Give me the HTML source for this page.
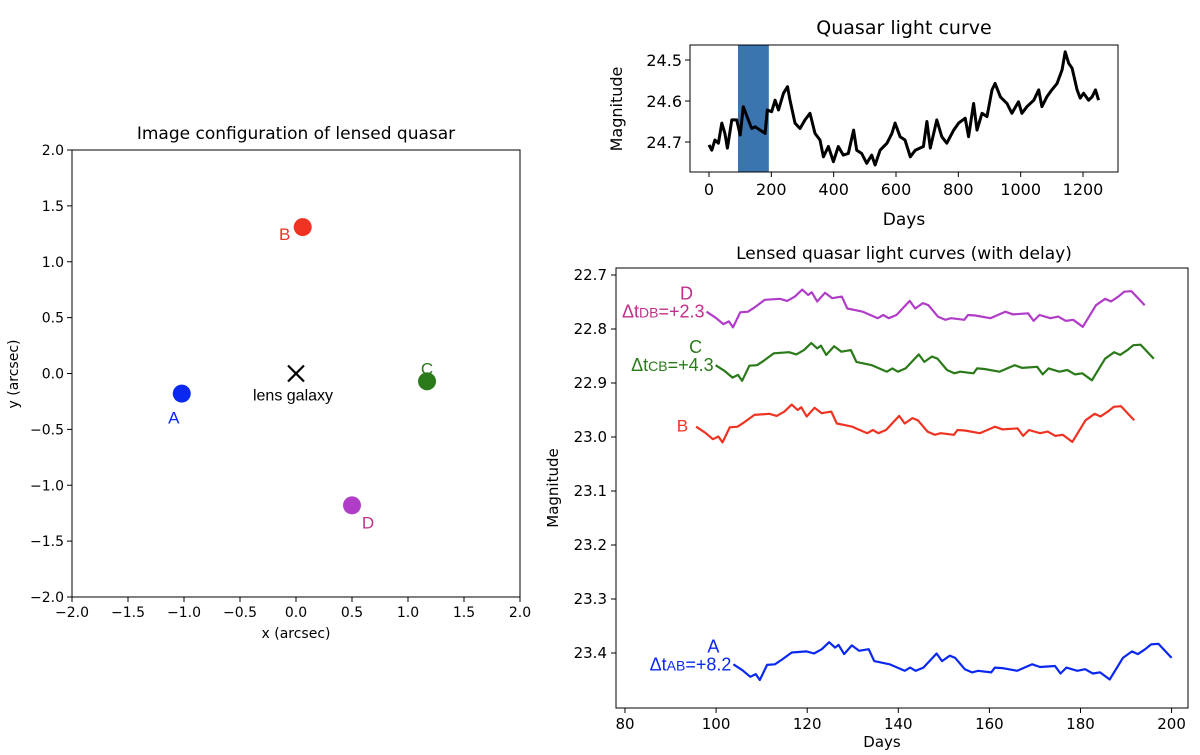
<!DOCTYPE html>
<html><head><meta charset="utf-8"><style>
body{margin:0;background:#fff;}
svg{display:block;font-family:"DejaVu Sans","Liberation Sans",sans-serif;}
.lab{font-family:"Liberation Sans",sans-serif;}
</style></head><body>
<svg id="fig" width="1200" height="755" viewBox="0 0 1200 755"></svg>
<script>
// ---- data ----
const imgNames = ["A","B","C","D"];
const imgX = [-1.02, 0.06, 1.17, 0.50];
const imgY = [-0.18, 1.31, -0.07, -1.18];
const lensXY = [0, 0];
const xyTicks = [-2.0,-1.5,-1.0,-0.5,0.0,0.5,1.0,1.5,2.0];

const lcDays = [0,9,19,30,41,51,59,73,89,100,110,126,137,148,164,180,187,201,212,223,239,252,260,276,292,308,324,340,356,367,383,399,415,431,447,464,474,490,506,522,533,549,571,587,597,613,629,646,662,688,699,710,731,747,763,785,801,822,833,849,860,876,892,908,918,935,956,972,993,1004,1020,1042,1058,1068,1084,1100,1117,1133,1143,1154,1165,1181,1191,1202,1218,1229,1240,1250];
const lcMags = [24.707,24.720,24.695,24.703,24.654,24.679,24.715,24.646,24.646,24.683,24.614,24.646,24.667,24.663,24.671,24.679,24.622,24.626,24.598,24.622,24.581,24.565,24.598,24.654,24.667,24.646,24.630,24.679,24.695,24.736,24.711,24.748,24.711,24.732,24.728,24.671,24.720,24.728,24.752,24.732,24.756,24.720,24.703,24.679,24.654,24.687,24.695,24.736,24.720,24.711,24.650,24.715,24.646,24.687,24.703,24.671,24.654,24.642,24.687,24.606,24.671,24.630,24.638,24.573,24.557,24.590,24.606,24.630,24.602,24.630,24.614,24.598,24.573,24.614,24.590,24.573,24.557,24.524,24.480,24.508,24.520,24.573,24.593,24.581,24.598,24.590,24.573,24.598];
const bandRange = [93, 192];
const lcXTicks = [0,200,400,600,800,1000,1200];
const lcYTicks = [24.5,24.6,24.7];

const bDays = [95.6,97.6,99.3,100.5,101.4,103.0,104.7,106.3,108.4,111.7,113.3,115.0,116.6,117.9,118.7,119.9,121.6,123.2,125.3,126.5,128.2,129.9,133.2,134.4,135.6,137.3,140.2,141.4,143.1,144.3,146.4,148.0,149.3,152.2,153.0,154.6,157.9,161.2,162.9,166.2,167.4,168.7,171.1,172.8,174.5,176.1,178.2,181.1,183.1,184.4,186.0,187.3,188.9,191.8];
const bMags = [22.981,22.992,23.004,22.999,23.010,22.982,22.981,22.972,22.959,22.957,22.961,22.953,22.940,22.950,22.945,22.962,22.946,22.956,22.953,22.975,22.978,22.981,22.993,22.987,22.993,22.987,22.961,22.975,22.965,22.969,22.990,22.996,22.993,22.996,22.987,22.988,22.993,22.981,22.986,22.984,22.998,22.987,22.993,22.990,22.998,22.996,23.009,22.969,22.957,22.962,22.953,22.944,22.943,22.969];
const delays = [8.2, 0, 4.3, 2.3];       // A,B,C,D days
const magOffsets = [0.44, 0, -0.114, -0.213];
const lensXTicks = [80,100,120,140,160,180,200];
const lensYTicks = [22.7,22.8,22.9,23.0,23.1,23.2,23.3,23.4];

const colors = {A:"#0a28f0",B:"#ee3322",C:"#2a7a1a",D:"#b03cc8"};
const labColors = {A:"#0a28f0",B:"#ee3322",C:"#2a7a1a",D:"#c0308a"};

// ---- helpers ----
const svg = document.getElementById('fig');
const NS = "http://www.w3.org/2000/svg";
function mk(tag, attrs, parent){const e=document.createElementNS(NS,tag);for(const k in attrs)e.setAttribute(k,attrs[k]);(parent||svg).appendChild(e);return e;}
function txt(s, attrs, parent){const e=mk('text',attrs,parent);e.textContent=s;return e;}

// ---- left panel ----
const L={x0:72,x1:520,y0:150,y1:597};
const lx=v=>L.x0+(v+2)/4*(L.x1-L.x0);
const ly=v=>L.y1-(v+2)/4*(L.y1-L.y0);
let g=mk('g',{});


let r=mk('rect',{x:L.x0,y:L.y0,width:L.x1-L.x0,height:L.y1-L.y0,fill:'none',stroke:'#000','stroke-width':1},g);

xyTicks.forEach(t=>{
  mk('line',{x1:lx(t),x2:lx(t),y1:L.y1,y2:L.y1+5,stroke:'#000'},g);
  let e=txt(t.toFixed(1).replace('-','−'),{x:lx(t),y:L.y1+20,'font-size':14,'text-anchor':'middle'},g);
  
  mk('line',{x1:L.x0-5,x2:L.x0,y1:ly(t),y2:ly(t),stroke:'#000'},g);
  e=txt(t.toFixed(1).replace('-','−'),{x:L.x0-8,y:ly(t)+5,'font-size':14,'text-anchor':'end'},g);
  
});
let t1=txt('Image configuration of lensed quasar',{x:296,y:139,'font-size':17,'text-anchor':'middle'},g);

t1=txt('x (arcsec)',{x:296,y:638,'font-size':14,'text-anchor':'middle'},g);

t1=txt('y (arcsec)',{x:18,y:374,'font-size':14,'text-anchor':'middle',transform:'rotate(-90 18 374)'},g);

const labOff={A:[-8,24],B:[-18,7],C:[0,-13],D:[16,17]};
imgNames.forEach((n,i)=>{
  const c=mk('circle',{cx:lx(imgX[i]),cy:ly(imgY[i]),r:9,fill:colors[n]},g);
  
  
  const o=labOff[n];
  const e=txt(n,{x:lx(imgX[i])+o[0],y:ly(imgY[i])+o[1]+6,'font-size':17,'text-anchor':'middle',fill:labColors[n],class:'lab'},g);
  
  
});
const cx=lx(lensXY[0]),cy=ly(lensXY[1]);
let lg=mk('path',{d:`M${cx-8} ${cy-8}L${cx+8} ${cy+8}M${cx+8} ${cy-8}L${cx-8} ${cy+8}`,stroke:'#000','stroke-width':2.2},g);

lg=txt('lens galaxy',{x:cx-3,y:cy+27,'font-size':16,'text-anchor':'middle',class:'lab'},g);


// ---- top light curve ----
const T={x0:690,x1:1118,y0:45,y1:172};
const tx=d=>709+d*(1083-709)/1200;
const ty=m=>60+(m-24.5)*410;
g=mk('g',{});


let band=mk('rect',{x:tx(bandRange[0]),y:T.y0,width:tx(bandRange[1])-tx(bandRange[0]),height:T.y1-T.y0,fill:'#3a75b0'},g);

let lc=mk('path',{d:lcDays.map((d,i)=>(i?'L':'M')+tx(d).toFixed(1)+' '+ty(lcMags[i]).toFixed(1)).join(''),fill:'none',stroke:'#000','stroke-width':3,'stroke-linejoin':'round'},g);

r=mk('rect',{x:T.x0,y:T.y0,width:T.x1-T.x0,height:T.y1-T.y0,fill:'none',stroke:'#000'},g);

lcXTicks.forEach(t=>{
  mk('line',{x1:tx(t),x2:tx(t),y1:T.y1,y2:T.y1+5,stroke:'#000'},g);
  const e=txt(String(t),{x:tx(t),y:T.y1+23,'font-size':16,'text-anchor':'middle'},g);
  
});
lcYTicks.forEach(t=>{
  mk('line',{x1:T.x0-5,x2:T.x0,y1:ty(t),y2:ty(t),stroke:'#000'},g);
  const e=txt(t.toFixed(1),{x:T.x0-8,y:ty(t)+6,'font-size':16,'text-anchor':'end'},g);
  
});
t1=txt('Quasar light curve',{x:904,y:34,'font-size':19,'text-anchor':'middle'},g);

t1=txt('Days',{x:904,y:225,'font-size':17,'text-anchor':'middle'},g);

t1=txt('Magnitude',{x:622,y:109,'font-size':16,'text-anchor':'middle',transform:'rotate(-90 622 109)'},g);


// ---- lensed curves ----
const R={x0:616,x1:1188,y0:268,y1:708};
const rx=d=>625+(d-80)*4.555;
const ry=m=>275+(m-22.7)*540;
g=mk('g',{});


r=mk('rect',{x:R.x0,y:R.y0,width:R.x1-R.x0,height:R.y1-R.y0,fill:'none',stroke:'#000'},g);

lensXTicks.forEach(t=>{
  mk('line',{x1:rx(t),x2:rx(t),y1:R.y1,y2:R.y1+5,stroke:'#000'},g);
  const e=txt(String(t),{x:rx(t),y:R.y1+21,'font-size':15,'text-anchor':'middle'},g);
  
});
lensYTicks.forEach(t=>{
  mk('line',{x1:R.x0-5,x2:R.x0,y1:ry(t),y2:ry(t),stroke:'#000'},g);
  const e=txt(t.toFixed(1),{x:R.x0-9,y:ry(t)+5,'font-size':15,'text-anchor':'end'},g);
  
});
t1=txt('Lensed quasar light curves (with delay)',{x:904,y:259,'font-size':17,'text-anchor':'middle'},g);

t1=txt('Days',{x:882,y:747,'font-size':15,'text-anchor':'middle'},g);

t1=txt('Magnitude',{x:558,y:488,'font-size':15,'text-anchor':'middle',transform:'rotate(-90 558 488)'},g);

imgNames.forEach((n,i)=>{
  const p=mk('path',{d:bDays.map((d,j)=>(j?'L':'M')+rx(d+delays[i]).toFixed(1)+' '+ry(bMags[j]+magOffsets[i]).toFixed(1)).join(''),fill:'none',stroke:colors[n],'stroke-width':2.2,'stroke-linejoin':'round'},g);
  
  
  const x0=rx(bDays[0]+delays[i]), y0=ry(bMags[0]+magOffsets[i]);
  if(n==='B'){
    const e=txt('B',{x:x0-8,y:y0+5,'font-size':17,'text-anchor':'end',fill:labColors[n],class:'lab'},g);
    
  } else {
    const e=txt(n,{x:x0-20,y:y0-12,'font-size':18,'text-anchor':'middle',fill:labColors[n],class:'lab'},g);
    
    const dl=(n==='A')?'AB':n+'B';
    const e2=mk('text',{x:x0-2,y:y0+6,'font-size':18,'text-anchor':'end',fill:labColors[n],class:'lab'},g);
    
    
    e2.innerHTML='Δt<tspan font-size="14">'+dl+'</tspan>=+'+delays[i].toFixed(1);
  }
});
</script>
</body></html>
